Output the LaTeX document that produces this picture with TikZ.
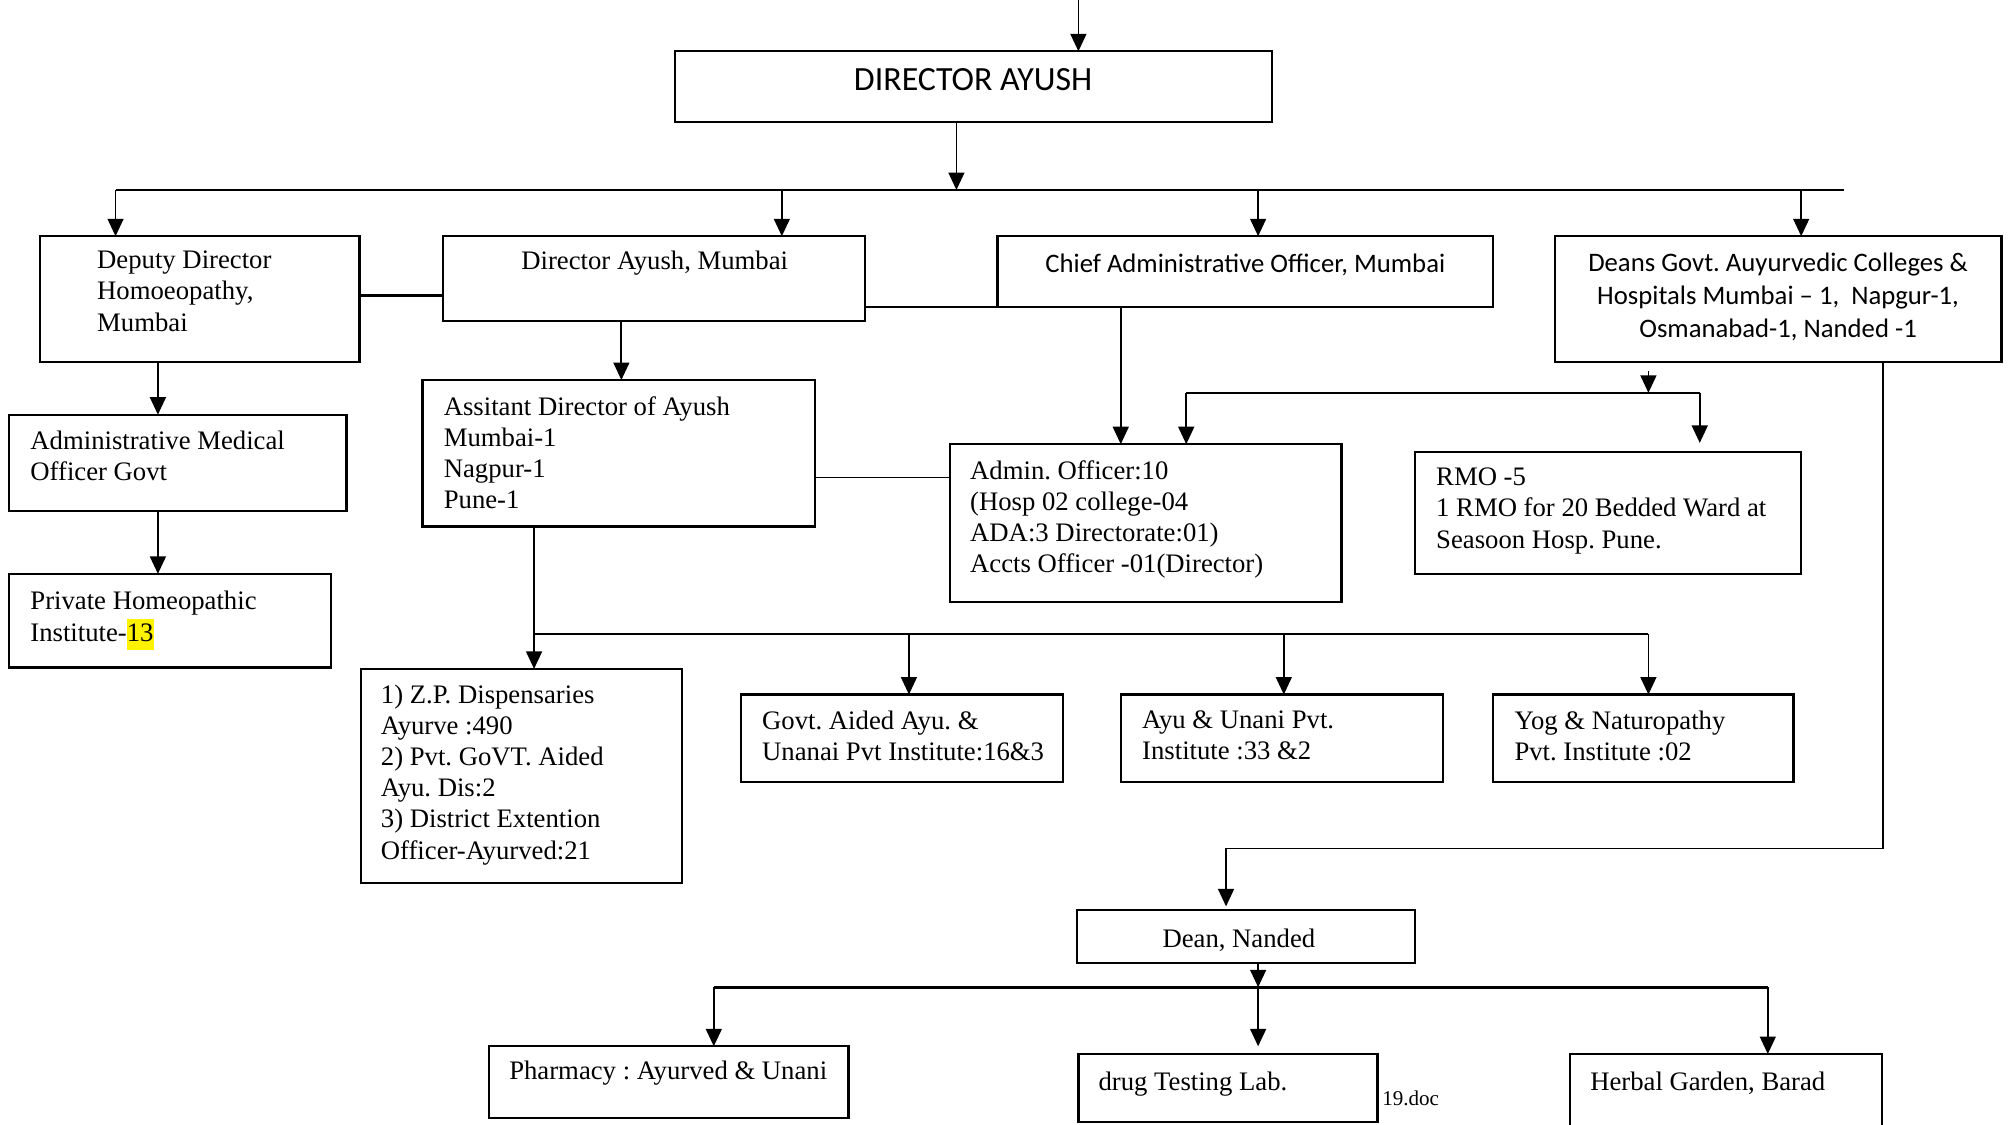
\documentclass[tikz,border=0pt]{standalone}
\usepackage{fontspec}
\setmainfont{Liberation Serif}
\newfontfamily\calibri{Carlito}
\usetikzlibrary{arrows.meta}
\setlength{\fboxsep}{0pt}
\frenchspacing
\newcommand{\hlite}[1]{\colorbox{yellow}{\strut #1}}

\tikzset{every picture/.style={line width=0.7pt}}
\tikzset{
  box/.style={draw, line width=0.9pt, anchor=north west, inner sep=0pt, outer sep=0pt},
  txt/.style={inner sep=0pt, anchor=north west, align=left, font=\fontsize{10.4}{12.1}\selectfont},
  cal/.style={inner sep=0pt, anchor=north, align=center, font=\calibri\fontsize{10.4}{13}\selectfont},
  arr/.style={-{Triangle[width=6.2pt,length=6.8pt]}},
  bus/.style={line width=1pt}
}

\begin{document}
\begin{tikzpicture}[x=0.5pt,y=0.5pt,yscale=-1]
\useasboundingbox (0,0) rectangle (1568,876);

% Boxes
\node[box, minimum width=232.5pt, minimum height=27.5pt] (dirA) at (526,40) {};
\node[box, minimum width=124.5pt, minimum height=49pt] (dep) at (31,184) {};
\node[box, minimum width=164.5pt, minimum height=33pt] (dam) at (345,184) {};
\node[box, minimum width=193pt, minimum height=27.5pt] (cao) at (777,184) {};
\node[box, minimum width=174pt, minimum height=49pt] (deans) at (1211,184) {};
\node[box, minimum width=131.5pt, minimum height=37.5pt] (amo) at (7,323) {};
\node[box, minimum width=125.5pt, minimum height=36.5pt] (phi) at (7,447) {};
\node[box, minimum width=153pt, minimum height=57pt] (asst) at (329,296) {};
\node[box, minimum width=152.5pt, minimum height=61.5pt] (ado) at (740,346) {};
\node[box, minimum width=150.5pt, minimum height=47.5pt] (rmo) at (1102,352) {};
\node[box, minimum width=125pt, minimum height=83.5pt] (zp) at (281,521) {};
\node[box, minimum width=125.5pt, minimum height=34pt] (gaa) at (577,541) {};
\node[box, minimum width=125.5pt, minimum height=34pt] (ayu) at (873,541) {};
\node[box, minimum width=117pt, minimum height=34pt] (yog) at (1163,541) {};
\node[box, minimum width=131.5pt, minimum height=20.5pt] (dnd) at (839,709) {};
\node[box, minimum width=140pt, minimum height=28pt] (phar) at (381,815) {};
\node[box, minimum width=116.5pt, minimum height=26.5pt] (dtl) at (840,821) {};
\node[box, minimum width=121.5pt, minimum height=40pt] (hg) at (1223,821) {};

% Texts
\node[inner sep=0pt, font=\calibri\fontsize{13.2}{15}\selectfont] (dirAT) at (758,62) {DIRECTOR AYUSH};
\node[txt] (depT) at (75,195) {Deputy Director\\Homoeopathy,\\Mumbai};
\node[txt, anchor=north] (damT) at (510,195) {Director Ayush, Mumbai};
\node[cal] (caoT) at (970,197) {Chief Administrative Officer, Mumbai};
\node[cal] (deansT) at (1385,196) {Deans Govt. Auyurvedic Colleges \&\\Hospitals Mumbai – 1,\ \ Napgur-1,\\Osmanabad-1, Nanded -1};
\node[txt] (amoT) at (23,335) {Administrative Medical\\Officer Govt};
\node[txt] (phiT) at (23,460) {Private Homeopathic\\Institute-\hlite{13}};
\node[txt] (asstT) at (345,308) {Assitant Director of Ayush\\Mumbai-1\\Nagpur-1\\Pune-1};
\node[txt] (adoT) at (755,358) {Admin. Officer:10\\(Hosp 02 college-04\\ADA:3 Directorate:01)\\Accts Officer -01(Director)};
\node[txt] (rmoT) at (1118,364) {RMO -5\\1 RMO for 20 Bedded Ward at\\Seasoon Hosp. Pune.};
\node[txt] (zpT) at (296,533) {1) Z.P. Dispensaries\\Ayurve :490\\2) Pvt. GoVT. Aided\\Ayu. Dis:2\\3) District Extention\\Officer-Ayurved:21};
\node[txt] (gaaT) at (593,553) {Govt. Aided Ayu. \&\\Unanai Pvt Institute:16\&3};
\node[txt] (ayuT) at (889,553) {Ayu \& Unani Pvt.\\Institute :33 \&2};
\node[txt] (yogT) at (1179,553) {Yog \& Naturopathy\\Pvt. Institute :02};
\node[txt, anchor=north] (dndT) at (965,723) {Dean, Nanded};
\node[txt] (pharT) at (396,826) {Pharmacy : Ayurved \& Unani};
\node[txt] (dtlT) at (855,834) {drug Testing Lab.};
\node[txt] (hgT) at (1238,834) {Herbal Garden, Barad};
\node[inner sep=0pt, anchor=north west, font=\fontsize{8.2}{10}\selectfont] (docT) at (1076,849) {19.doc};

% Top level
\coordinate (topIn) at (840,-4);
\draw[arr] (topIn) -- (dirA.north -| topIn);
\coordinate (b1w) at (90,148);
\coordinate (b1e) at (1436,148);
\draw[bus] (b1w) -- (b1e);
\draw[arr] (dirA.south -| 745,0) -- (b1w -| 745,0);
\draw[arr] (b1w) -- (dep.north -| b1w);
\draw[arr] (b1w -| 609,0) -- (dam.north -| 609,0);
\draw[arr] (b1w -| 980,0) -- (cao.north -| 980,0);
\draw[arr] (b1w -| 1403,0) -- (deans.north -| 1403,0);
\draw[bus] (dep.east |- 0,230) -- (dam.west |- 0,230);
\draw (dam.east |- cao.south) -- (cao.south west);

% Left column
\draw[arr] (dep.south -| 123,0) -- (amo.north -| 123,0);
\draw[arr] (amo.south -| 123,0) -- (phi.north -| 123,0);

% Assistant director branch
\draw[arr] (dam.south -| 484,0) -- (asst.north -| 484,0);
\draw (asst.east |- 0,372) -- (ado.west |- 0,372);
\coordinate (b2w) at (416,494);
\coordinate (b2e) at (1284,494);
\draw (asst.south -| b2w) -- (b2w);
\draw[bus] (b2w) -- (b2e);
\draw[arr] (b2w) -- (zp.north -| b2w);
\draw[arr] (b2w -| 708,0) -- (gaa.north -| 708,0);
\draw[arr] (b2w -| 1000,0) -- (ayu.north -| 1000,0);
\draw[arr] (b2e) -- (yog.north -| b2e);

% Admin officer and RMO
\draw[arr] (cao.south -| 873,0) -- (ado.north -| 873,0);
\coordinate (b3w) at (924,306);
\coordinate (b3e) at (1324,306);
\draw[bus] (b3w) -- (b3e);
\draw[arr, shorten <=3.5pt] (deans.south -| 1284,0) -- (b3w -| 1284,0);
\draw[arr] (b3w) -- (ado.north -| b3w);
\draw[arr, shorten >=3.5pt] (b3e) -- (rmo.north -| b3e);

% Dean Nanded branch
\coordinate (dnBend) at (955,661);
\draw[arr, shorten >=1.5pt] (deans.south -| 1467,0) |- (dnBend) -- (dnd.north -| dnBend);
\coordinate (b4w) at (556,769);
\coordinate (b4e) at (1377,769);
\draw[arr] (dnd.south -| 980,0) -- (b4w -| 980,0);
\draw[bus] (b4w) -- (b4e);
\draw[arr] (b4w) -- (phar.north -| b4w);
\draw[arr, shorten >=3pt] (b4w -| 980,0) -- (dtl.north -| 980,0);
\draw[arr] (b4e) -- (hg.north -| b4e);

\end{tikzpicture}
\end{document}
